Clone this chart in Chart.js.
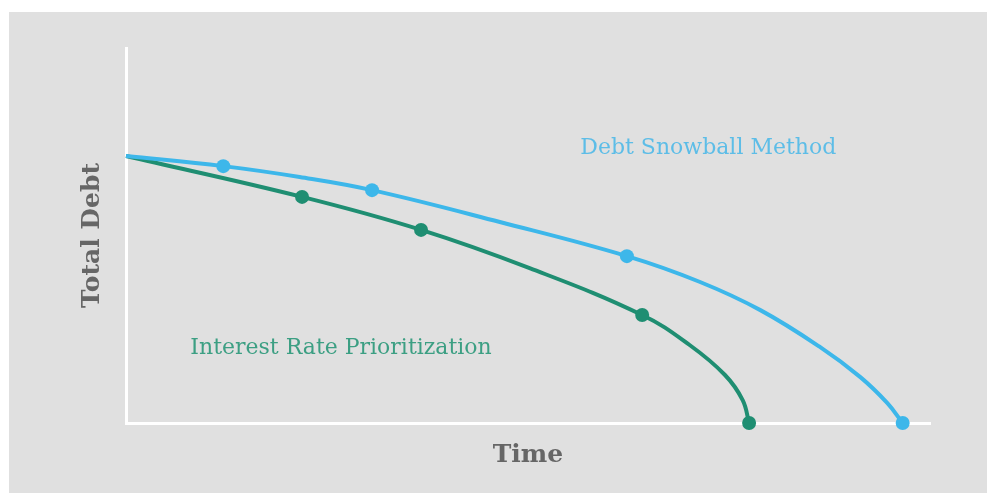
<!DOCTYPE html>
<html>
<head>
<meta charset="utf-8">
<script src="https://cdn.jsdelivr.net/npm/chart.js@4.4.0/dist/chart.umd.min.js"></script>
<style>
    html, body { margin: 0; padding: 0; background: #ffffff; }
    #wrap {
        position: absolute;
        left: 9px;
        top: 12px;
        width: 978px;
        height: 481px;
        background: #e0e0e0;
    }
</style>
</head>
<body>
<div id="wrap"><canvas id="myChart_debt"></canvas></div>
<script>
// curve (time 0..100, debt 0..100)
const snowballTime = [0, 12.1, 21.6, 30.6, 46.5, 62.3, 71.4, 78.9, 86.3, 91.3, 94.7, 96.6];
const snowballDebt = [71.2, 68.5, 65.6, 62.1, 53.6, 44.5, 37.6, 30.1, 20.3, 12.3, 5.3, 0];
const interestTime = [0, 21.9, 36.7, 50.2, 64.2, 70.1, 74.5, 76.7, 77.5];
const interestDebt = [71.2, 60.3, 51.5, 41.3, 28.8, 20.8, 12.8, 6.1, 0];

// the dots on each line
const snowballDotTime = [12.1, 30.6, 62.3, 96.6];
const snowballDotDebt = [68.5, 62.1, 44.5, 0];
const interestDotTime = [21.9, 36.7, 64.2, 77.5];
const interestDotDebt = [60.3, 51.5, 28.8, 0];

const seriesNames = ['Debt Snowball Method', 'Interest Rate Prioritization'];

const blue = '#3db7ea';
const green = '#1f8e72';

function toPoints(xs, ys) {
    return xs.map(function(x, i) { return { x: x, y: ys[i] }; });
}

// text labels next to the curves, placed in data units
const curveLabels = {
    id: 'curveLabels',
    afterDatasetsDraw: function(chart) {
        const ctx = chart.ctx;
        const xs = chart.scales.x;
        const ys = chart.scales.y;
        ctx.save();
        ctx.font = '22px "DejaVu Serif"';
        ctx.textBaseline = 'middle';
        ctx.textAlign = 'left';
        ctx.fillStyle = '#5dbde7';
        ctx.fillText(seriesNames[0], xs.getPixelForValue(56.5), ys.getPixelForValue(73.2));
        ctx.fillStyle = '#3c9f83';
        ctx.fillText(seriesNames[1], xs.getPixelForValue(8), ys.getPixelForValue(19.8));
        ctx.restore();
    }
};

const data = {
    datasets: [{
        label: seriesNames[0] + ' dots',
        data: toPoints(snowballDotTime, snowballDotDebt),
        showLine: false,
        pointRadius: 7,
        pointBackgroundColor: blue,
        pointBorderWidth: 0,
        clip: false
    }, {
        label: seriesNames[0],
        data: toPoints(snowballTime, snowballDebt),
        borderColor: blue,
        borderWidth: 4,
        pointRadius: 0,
        tension: 0.4,
        clip: false
    }, {
        label: seriesNames[1] + ' dots',
        data: toPoints(interestDotTime, interestDotDebt),
        showLine: false,
        pointRadius: 7,
        pointBackgroundColor: green,
        pointBorderWidth: 0,
        clip: false
    }, {
        label: seriesNames[1],
        data: toPoints(interestTime, interestDebt),
        borderColor: green,
        borderWidth: 4,
        pointRadius: 0,
        tension: 0.4,
        clip: false
    }]
};

const config = {
    type: 'line',
    data: data,
    plugins: [curveLabels],
    options: {
        responsive: true,
        maintainAspectRatio: false,
        animation: false,
        layout: {
            padding: { left: 0, top: 36, right: 57, bottom: 0 }
        },
        plugins: {
            legend: { display: false },
            tooltip: { enabled: false }
        },
        scales: {
            x: {
                type: 'linear',
                min: 0,
                max: 100,
                grid: { display: false, drawTicks: false },
                border: { color: '#ffffff', width: 3 },
                ticks: { display: false },
                title: {
                    display: true,
                    text: 'Time',
                    color: '#666666',
                    font: { family: 'DejaVu Serif', size: 25, weight: 'bold' },
                    padding: { top: 23, bottom: 23 }
                },
                afterFit: function(scale) { scale.height = 70; }
            },
            y: {
                min: 0,
                max: 100,
                grid: { display: false, drawTicks: false },
                border: { color: '#ffffff', width: 3 },
                ticks: { display: false },
                title: {
                    display: true,
                    text: 'Total Debt',
                    color: '#666666',
                    font: { family: 'DejaVu Serif', size: 25, weight: 'bold' },
                    padding: { top: 68, bottom: 68 }
                },
                afterFit: function(scale) { scale.width = 117; }
            }
        }
    }
};

const myChart = new Chart(
    document.getElementById('myChart_debt'),
    config
);
</script>
</body>
</html>
